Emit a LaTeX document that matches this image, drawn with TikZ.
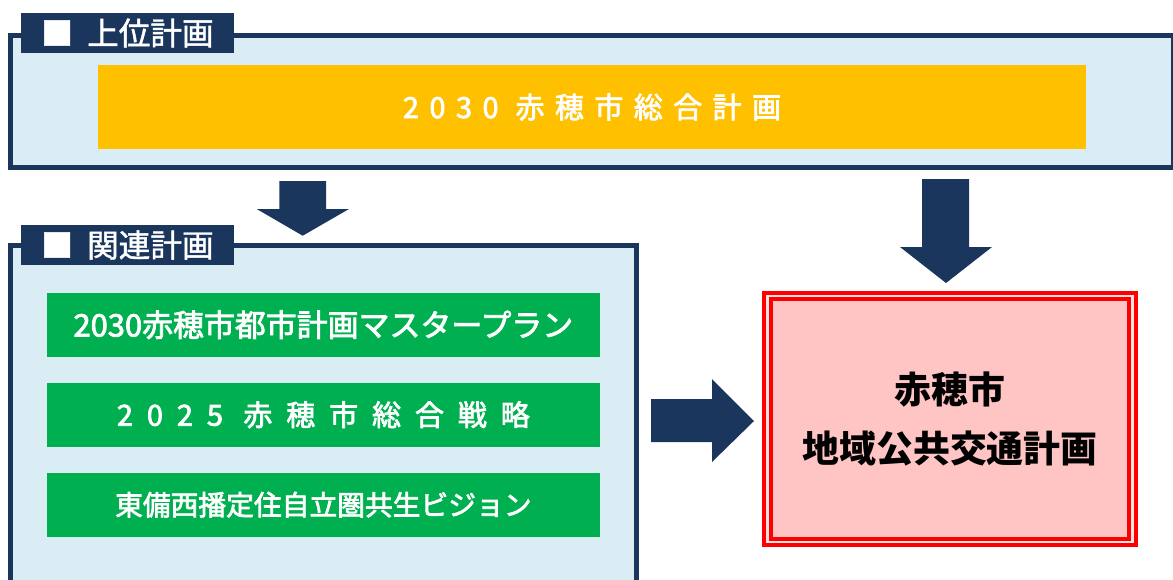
\documentclass[tikz,border=0pt]{standalone}
\usepackage{fontspec}
\setmainfont{Noto Sans CJK JP}
\usetikzlibrary{calc}

\definecolor{navy}{HTML}{1B365D}
\definecolor{paleblue}{HTML}{DAEDF4}
\definecolor{planyellow}{HTML}{FFC000}
\definecolor{plangreen}{HTML}{00B050}
\definecolor{planred}{HTML}{FF0000}
\definecolor{planpink}{HTML}{FFC4C4}
\definecolor{paleline}{HTML}{FFE2E2}

\begin{document}
\begin{tikzpicture}[x=0.02cm, y=-0.02cm,
	frame box/.style={draw=navy, line width=0.1cm, fill=paleblue, inner sep=0pt},
	tab box/.style={fill=navy, text=white, minimum width=4.26cm, minimum height=0.8cm, inner sep=0pt,
		font=\fontsize{18}{20}\selectfont\addfontfeature{FakeBold=1.5}},
	plan box/.style={fill=plangreen, text=white, minimum width=11.07cm, minimum height=1.28cm, inner sep=0pt},
	target box/.style={fill=planpink, draw=planred, line width=0.08cm, double=paleline, double distance=0.055cm,
		minimum width=7.3cm, minimum height=4.92cm, align=center, font=\fontsize{21}{34}\selectfont\bfseries},
	block arrow/.style={fill=navy}]

	\useasboundingbox (0,0) rectangle (1173,579);

	% upper plan
	\node[frame box, minimum width=23.26cm, minimum height=2.64cm] (Upper) at (592,101.5) {};
	\node[tab box] (UpperTab) at (127.5,33) {■\hspace{0.45em}上位計画};
	\node[fill=planyellow, text=white, minimum width=19.76cm, minimum height=1.68cm, inner sep=0pt,
		font=\fontsize{16.5}{18}\selectfont\addfontfeature{LetterSpace=36,FakeBold=2.5}] (General) at (592,107) {2030 赤穂市総合計画};

	% related plans
	\node[frame box, minimum width=12.53cm, minimum height=7.49cm] (Related) at (323.75,432.75) {};
	\node[tab box] (RelatedTab) at (127.5,245) {■\hspace{0.45em}関連計画};
	\node[plan box, font=\fontsize{17.6}{19}\selectfont\addfontfeature{FakeBold=2.5}] (Master) at (323.35,324.7) {2030赤穂市都市計画マスタープラン};
	\node[plan box, font=\fontsize{16.5}{18}\selectfont\addfontfeature{LetterSpace=48,FakeBold=2.5}] (Strategy) at (323.35,414.7) {2025 赤穂市総合戦略};
	\node[plan box, font=\fontsize{15.8}{18}\selectfont\addfontfeature{FakeBold=2.5}] (Vision) at (323.35,504.7) {東備西播定住自立圏共生ビジョン};

	% target plan
	\node[target box] (Transit) at (950,419) {赤穂市\\地域公共交通計画};

	% block arrows
	\coordinate (TipA) at (302.7,235.7);
	\coordinate (TipB) at (946,283);
	\coordinate (TipC) at (754,421);
	\fill[block arrow] (TipA) -- ++(46.3,-26.7) -- ++(-23,0) -- ++(0,-28) -- ++(-46.7,0) -- ++(0,28) -- ++(-22.6,0) -- cycle;
	\fill[block arrow] (TipB) -- ++(46,-36) -- ++(-23,0) -- ++(0,-68) -- ++(-47,0) -- ++(0,68) -- ++(-22,0) -- cycle;
	\fill[block arrow] (TipC) -- ++(-42,41) -- ++(0,-20) -- ++(-61,0) -- ++(0,-43) -- ++(61,0) -- ++(0,-20) -- cycle;
\end{tikzpicture}
\end{document}
